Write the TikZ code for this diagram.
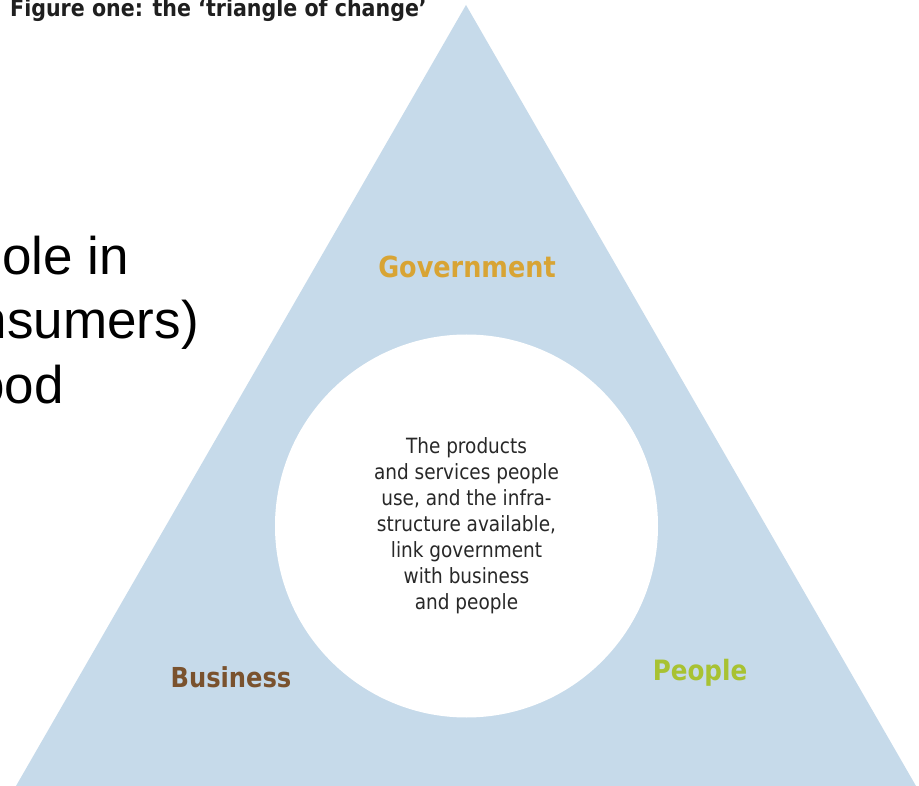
\documentclass[tikz,border=0pt]{standalone}
\usepackage{fontspec}
\setmainfont{DejaVu Sans}
\newfontfamily\tahfont[FakeStretch=0.88]{DejaVu Sans}
\newfontfamily\arialfont{Liberation Sans}
\definecolor{trifill}{RGB}{198,218,234}
\definecolor{govcol}{RGB}{216,164,52}
\definecolor{buscol}{RGB}{122,82,46}
\definecolor{peocol}{RGB}{168,194,50}
\definecolor{bodycol}{RGB}{40,40,40}
\tikzset{
  label/.style={inner sep=0pt, font=\tahfont\bfseries},
  bigtext/.style={inner sep=0pt, anchor=base east, font=\arialfont\fontsize{53}{62}\selectfont, text=black},
}
\begin{document}
\begin{tikzpicture}[x=1pt,y=-1pt]
\useasboundingbox (0,0) rectangle (919,786);
\clip (0,0) rectangle (919,786);
\fill[white] (0,0) rectangle (919,786);
\coordinate (apex) at (466,5);
\coordinate (bl) at (16,786);
\coordinate (br) at (916,786);
\fill[trifill] (apex) -- (bl) -- (br) -- cycle;
\node[circle, fill=white, minimum size=383pt, inner sep=0pt, align=center,
  font=\tahfont\fontsize{21}{26}\selectfont, text=bodycol] (hub) at (466.5,526)
  {The products\\and services people\\use, and the infra-\\structure available,\\link government\\with business\\and people};
\node[label, text=govcol, font=\tahfont\bfseries\fontsize{29}{34}\selectfont] (gov) at (467,267) {Government};
\node[label, text=buscol, font=\tahfont\bfseries\fontsize{27.5}{32}\selectfont] (bus) at (231,677) {Business};
\node[label, text=peocol, font=\tahfont\bfseries\fontsize{28}{32}\selectfont] (peo) at (700,673) {People};
\node[inner sep=0pt, anchor=base west, text=black!88, font=\tahfont\bfseries\fontsize{23.4}{28}\selectfont] (title) at (10,17) {Figure one: the ‘triangle of change’};
\node[bigtext] (l1) at (129,275) {ole in};
\node[bigtext] (l2) at (199,339) {nsumers)};
\node[bigtext] (l3) at (64,403) {ood};
\end{tikzpicture}
\end{document}
